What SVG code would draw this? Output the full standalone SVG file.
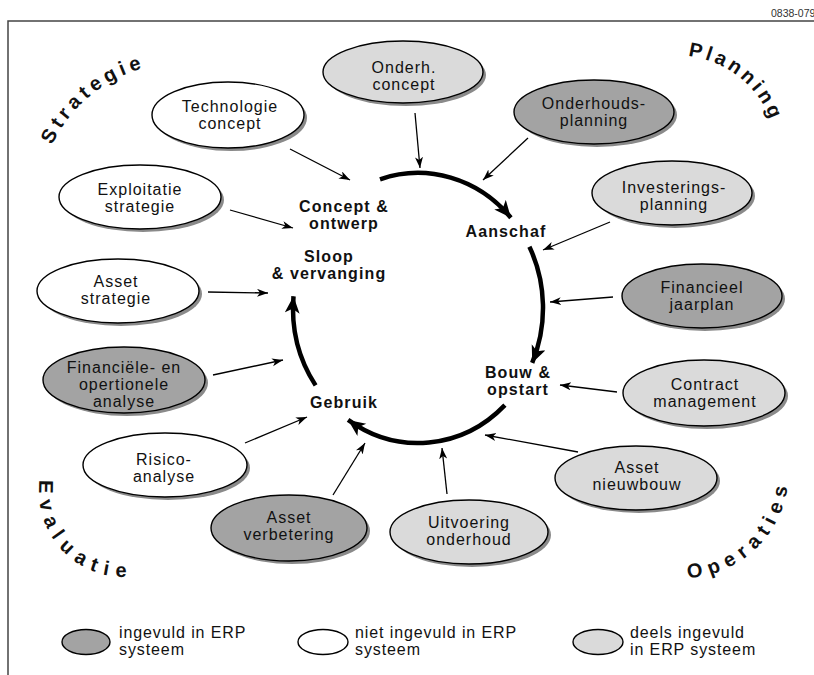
<svg xmlns="http://www.w3.org/2000/svg" width="814" height="675" viewBox="0 0 814 675">
<style>
text{font-family:"Liberation Sans",Arial,sans-serif;fill:#111}
.t{font-size:16px;letter-spacing:1px;text-anchor:middle}
.c{font-size:16px;font-weight:bold;letter-spacing:1.1px;text-anchor:middle}
.k{font-size:20px;font-weight:bold}
.lg{font-size:16px;letter-spacing:0.9px}
.sh{fill:#8a8a8a}
.n{stroke:#000;stroke-width:1.4}
.dk{fill:#a3a3a3}
.lt{fill:#dadada}
.wh{fill:#fff}
.cn line{stroke:#000;stroke-width:1.3;marker-end:url(#ah)}
.cy path{fill:none;stroke:#000;stroke-width:4.5;marker-end:url(#bh)}
</style>
<defs>
<marker id="ah" markerUnits="userSpaceOnUse" markerWidth="12" markerHeight="9" refX="11" refY="4" orient="auto" viewBox="0 0 12 9">
<path d="M0,0 L11,4 L0,8 L3,4 z" fill="#000"/>
</marker>
<marker id="bh" markerUnits="userSpaceOnUse" markerWidth="18" markerHeight="16" refX="17" refY="7.5" orient="auto" viewBox="0 0 18 16">
<path d="M0,0 L17,7.5 L0,15 L4.5,7.5 z" fill="#000"/>
</marker>
<path id="pS" d="M52 145 A142 142 0 0 1 217 68"/>
<path id="pP" d="M688 56 A100 100 0 0 1 777 156"/>
<path id="pE" d="M40 480 A85 85 0 0 0 153 572"/>
<path id="pO" d="M688 578 A106 106 0 0 0 787 454"/>
</defs>
<rect width="814" height="675" fill="#fff"/>
<path d="M8 675 V21 H814" fill="none" stroke="#444" stroke-width="1.5"/>
<text x="771" y="17" style="font-size:10.5px;fill:#333">0838-079</text>

<g id="corner-labels">
<text class="k" letter-spacing="4.5"><textPath href="#pS">Strategie</textPath></text>
<text class="k" letter-spacing="3.5"><textPath href="#pP">Planning</textPath></text>
<text class="k" letter-spacing="7.5"><textPath href="#pE">Evaluatie</textPath></text>
<text class="k" letter-spacing="6.7"><textPath href="#pO">Operaties</textPath></text>
</g>

<g id="cycle" class="cy">
<path d="M380 179.3 A125 135 0 0 1 510.9 217.7"/>
<path d="M529.4 246.7 A125 135 0 0 1 532.2 362.9"/>
<path d="M504.9 405.1 A125 135 0 0 1 348.1 419.9"/>
<path d="M315.6 385.4 A125 135 0 0 1 293.5 296.2"/>
</g>

<g id="cycle-labels">
<text class="c" x="344" y="212">Concept &amp;</text>
<text class="c" x="344" y="229">ontwerp</text>
<text class="c" x="506" y="237">Aanschaf</text>
<text class="c" x="329" y="262">Sloop</text>
<text class="c" x="329" y="279">&amp; vervanging</text>
<text class="c" x="518" y="378">Bouw &amp;</text>
<text class="c" x="518" y="395">opstart</text>
<text class="c" x="344" y="408">Gebruik</text>
</g>

<g id="connectors" class="cn">
<line x1="290" y1="149" x2="350" y2="180"/>
<line x1="415" y1="113" x2="420" y2="168"/>
<line x1="528" y1="138" x2="483" y2="180"/>
<line x1="610" y1="222" x2="543" y2="250"/>
<line x1="613" y1="297" x2="550" y2="302"/>
<line x1="617" y1="392" x2="560" y2="385"/>
<line x1="578" y1="452" x2="485" y2="435"/>
<line x1="447" y1="494" x2="442" y2="448"/>
<line x1="333" y1="495" x2="365" y2="443"/>
<line x1="245" y1="443" x2="307" y2="417"/>
<line x1="213" y1="375" x2="283" y2="360"/>
<line x1="208" y1="292" x2="268" y2="293"/>
<line x1="230" y1="210" x2="293" y2="228"/>
</g>

<g id="technologie-concept">
<ellipse class="sh" cx="231" cy="118" rx="76" ry="33"/>
<ellipse class="n wh" cx="228" cy="115" rx="76" ry="33"/>
<text class="t" x="230" y="112">Technologie</text>
<text class="t" x="230" y="129">concept</text>
</g>
<g id="onderh-concept">
<ellipse class="sh" cx="406" cy="75" rx="80" ry="31"/>
<ellipse class="n lt" cx="403" cy="72" rx="80" ry="31"/>
<text class="t" x="404" y="73">Onderh.</text>
<text class="t" x="404" y="90">concept</text>
</g>
<g id="onderhouds-planning">
<ellipse class="sh" cx="597" cy="115" rx="80" ry="32"/>
<ellipse class="n dk" cx="594" cy="112" rx="80" ry="32"/>
<text class="t" x="594" y="109">Onderhouds-</text>
<text class="t" x="594" y="126">planning</text>
</g>
<g id="investerings-planning">
<ellipse class="sh" cx="675" cy="196" rx="80" ry="32"/>
<ellipse class="n lt" cx="672" cy="193" rx="80" ry="32"/>
<text class="t" x="674" y="193">Investerings-</text>
<text class="t" x="674" y="210">planning</text>
</g>
<g id="financieel-jaarplan">
<ellipse class="sh" cx="705" cy="299" rx="80" ry="32"/>
<ellipse class="n dk" cx="702" cy="296" rx="80" ry="32"/>
<text class="t" x="702" y="293">Financieel</text>
<text class="t" x="702" y="310">jaarplan</text>
</g>
<g id="contract-management">
<ellipse class="sh" cx="707" cy="396" rx="81" ry="33"/>
<ellipse class="n lt" cx="704" cy="393" rx="81" ry="33"/>
<text class="t" x="705" y="390">Contract</text>
<text class="t" x="705" y="407">management</text>
</g>
<g id="asset-nieuwbouw">
<ellipse class="sh" cx="639" cy="481" rx="81" ry="32"/>
<ellipse class="n lt" cx="636" cy="478" rx="81" ry="32"/>
<text class="t" x="637" y="473">Asset</text>
<text class="t" x="637" y="490">nieuwbouw</text>
</g>
<g id="uitvoering-onderhoud">
<ellipse class="sh" cx="472" cy="535" rx="79" ry="32"/>
<ellipse class="n lt" cx="469" cy="532" rx="79" ry="32"/>
<text class="t" x="469" y="528">Uitvoering</text>
<text class="t" x="469" y="545">onderhoud</text>
</g>
<g id="asset-verbetering">
<ellipse class="sh" cx="292" cy="531" rx="78" ry="33"/>
<ellipse class="n dk" cx="289" cy="528" rx="78" ry="33"/>
<text class="t" x="289" y="523">Asset</text>
<text class="t" x="289" y="540">verbetering</text>
</g>
<g id="risico-analyse">
<ellipse class="sh" cx="168" cy="468" rx="82" ry="32"/>
<ellipse class="n wh" cx="165" cy="465" rx="82" ry="32"/>
<text class="t" x="164" y="465">Risico-</text>
<text class="t" x="164" y="482">analyse</text>
</g>
<g id="financiele-analyse">
<ellipse class="sh" cx="127" cy="383" rx="81" ry="33"/>
<ellipse class="n dk" cx="124" cy="380" rx="81" ry="33"/>
<text class="t" x="124" y="373">Financiële- en</text>
<text class="t" x="124" y="390">opertionele</text>
<text class="t" x="124" y="407">analyse</text>
</g>
<g id="asset-strategie">
<ellipse class="sh" cx="121" cy="294" rx="81" ry="32"/>
<ellipse class="n wh" cx="118" cy="291" rx="81" ry="32"/>
<text class="t" x="116" y="287">Asset</text>
<text class="t" x="116" y="304">strategie</text>
</g>
<g id="exploitatie-strategie">
<ellipse class="sh" cx="143" cy="200" rx="81" ry="32"/>
<ellipse class="n wh" cx="140" cy="197" rx="81" ry="32"/>
<text class="t" x="140" y="195">Exploitatie</text>
<text class="t" x="140" y="212">strategie</text>
</g>

<g id="legend">
<ellipse class="n dk" cx="86" cy="642" rx="24" ry="12.5"/>
<text class="lg" x="119" y="638">ingevuld in ERP</text>
<text class="lg" x="119" y="655">systeem</text>
<ellipse class="n wh" cx="323" cy="642" rx="25" ry="12.5"/>
<text class="lg" x="355" y="638">niet ingevuld in ERP</text>
<text class="lg" x="355" y="655">systeem</text>
<ellipse class="n lt" cx="598" cy="642" rx="25" ry="12.5"/>
<text class="lg" x="630" y="638">deels ingevuld</text>
<text class="lg" x="630" y="655">in ERP systeem</text>
</g>
</svg>
